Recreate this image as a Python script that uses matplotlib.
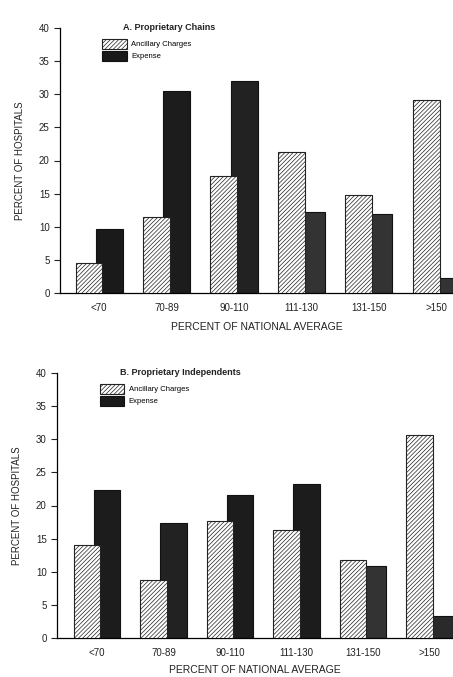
import numpy as np
import matplotlib.pyplot as plt
from matplotlib.patches import Patch

# categories and values
categories = ['<70', '70-89', '90-110', '111-130', '131-150', '>150']
chains_ancillary = [4.6, 11.5, 17.7, 21.3, 14.8, 29.2]
chains_expense = [9.6, 30.5, 32.0, 12.3, 12.0, 2.3]
indep_ancillary = [14.1, 8.8, 17.7, 16.3, 11.8, 30.7]
indep_expense = [22.3, 17.4, 21.6, 23.3, 10.8, 3.3]

plt.rcParams['font.family'] = ['Liberation Sans', 'DejaVu Sans']
plt.rcParams['hatch.linewidth'] = 0.5

# print shade of the dark bars varies a bit from bar to bar
chains_dark = ['#1a1a1a', '#1c1c1c', '#222222', '#333333', '#333333', '#333333']
indep_dark = ['#1c1c1c', '#222222', '#1c1c1c', '#1c1c1c', '#333333', '#2a2a2a']


def draw_panel(ax, anc, exp, title, xlim, dark, xlabelpad):
    x = np.arange(len(categories))
    w = 0.40
    ax.bar(x + 0.15, exp, w, color=dark, edgecolor='#111111', linewidth=0.8, zorder=2)
    ax.bar(x - 0.15, anc, w, color='white', edgecolor='#222222', hatch='////////',
           linewidth=0.8, zorder=3)

    ax.set_xlim(*xlim)
    ax.set_ylim(0, 40)
    ax.set_yticks(range(0, 41, 5))
    ax.set_xticks(x)
    ax.set_xticklabels(categories)
    ax.tick_params(axis='both', labelsize=7, colors='#222222', length=4, width=0.8)
    ax.tick_params(axis='x', length=0, pad=7)
    ax.spines['top'].set_visible(False)
    ax.spines['right'].set_visible(False)
    ax.spines['left'].set_linewidth(0.9)
    ax.spines['bottom'].set_linewidth(0.9)
    ax.set_ylabel('PERCENT OF HOSPITALS', fontsize=7, labelpad=10, color='#222222')
    ax.set_xlabel('PERCENT OF NATIONAL AVERAGE', fontsize=7.5, labelpad=xlabelpad,
                  color='#222222')
    ax.text(0.16, 1.0, title, transform=ax.transAxes, fontsize=6.5,
            fontweight='bold', color='#222222', va='center')

    handles = [Patch(facecolor='white', edgecolor='#222222', hatch='////////', linewidth=0.8),
               Patch(facecolor='#1a1a1a', edgecolor='#111111', linewidth=0.8)]
    ax.legend(handles, ['Ancillary Charges', 'Expense'], loc='upper left',
              bbox_to_anchor=(0.09, 0.985), frameon=False, fontsize=5.5,
              handlelength=3.2, handleheight=1.6, labelspacing=0.3, handletextpad=0.6)


fig = plt.figure(figsize=(4.53, 6.77), dpi=100)
ax1 = fig.add_axes([60 / 453, 1 - 293 / 677, 1 - 60 / 453, (293 - 28) / 677])
ax2 = fig.add_axes([57 / 453, 1 - 638 / 677, 1 - 57 / 453, (638 - 373) / 677])

draw_panel(ax1, chains_ancillary, chains_expense, 'A. Proprietary Chains',
           (-0.58, 5.25), chains_dark, 7)
draw_panel(ax2, indep_ancillary, indep_expense, 'B. Proprietary Independents',
           (-0.6, 5.35), indep_dark, 5)

fig.savefig('out.png', dpi=100)
